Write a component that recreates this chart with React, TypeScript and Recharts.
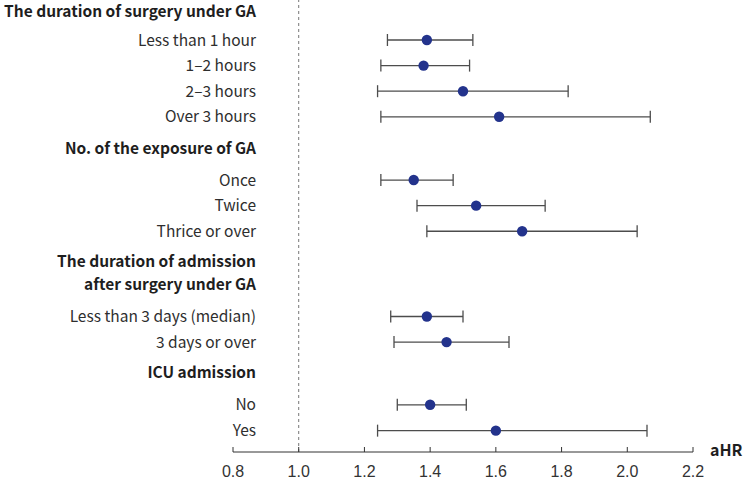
import React from "react";
import {
  ScatterChart,
  Scatter,
  XAxis,
  YAxis,
  ErrorBar,
  ReferenceLine,
  Label,
} from "recharts";

// Row labels (headers and items) with their row positions (in row units, top to bottom)
const rowLabels: string[][] = [
  ["The duration of surgery under GA"],
  ["Less than 1 hour"],
  ["1–2 hours"],
  ["2–3 hours"],
  ["Over 3 hours"],
  ["No. of the exposure of GA"],
  ["Once"],
  ["Twice"],
  ["Thrice or over"],
  ["The duration of admission", "after surgery under GA"],
  ["Less than 3 days (median)"],
  ["3 days or over"],
  ["ICU admission"],
  ["No"],
  ["Yes"],
];
const rowIsHeader: boolean[] = [
  true, false, false, false, false,
  true, false, false, false,
  true, false, false,
  true, false, false,
];
const rowPos: number[] = [
  -0.1, 1, 2, 3, 4,
  5.22, 6.47, 7.47, 8.47,
  10.12, 11.8, 12.8,
  14.0, 15.25, 16.26,
];

// Item estimates (aHR) and 95% CI, in row order (items only)
const itemPos: number[] = [1, 2, 3, 4, 6.47, 7.47, 8.47, 11.8, 12.8, 15.25, 16.26];
const aHR: number[] = [1.39, 1.38, 1.5, 1.61, 1.35, 1.54, 1.68, 1.39, 1.45, 1.4, 1.6];
const ciLow: number[] = [1.27, 1.25, 1.24, 1.25, 1.25, 1.36, 1.39, 1.28, 1.29, 1.3, 1.24];
const ciHigh: number[] = [1.53, 1.52, 1.82, 2.07, 1.47, 1.75, 2.03, 1.5, 1.64, 1.51, 2.06];

const xTicks: number[] = [0.8, 1.0, 1.2, 1.4, 1.6, 1.8, 2.0, 2.2];

const data = itemPos.map((p, i) => ({
  pos: p,
  hr: aHR[i],
  err: [aHR[i] - ciLow[i], ciHigh[i] - aHR[i]],
}));

const labelFont = "'Noto Sans CJK KR', 'Noto Sans', sans-serif";

const RowTick = (props: any) => {
  const { x, y, index } = props;
  const lines = rowLabels[index] || [];
  const header = rowIsHeader[index];
  const lh = 23;
  const start = -((lines.length - 1) * lh) / 2;
  return (
    <g>
      {lines.map((t, k) => (
        <text
          key={k}
          x={x + 23}
          y={y + start + k * lh}
          dy="0.355em"
          textAnchor="end"
          fontFamily={labelFont}
          fontSize={15.5}
          fontWeight={header ? 700 : 400}
          fill={header ? "#1e1e1e" : "#2e2e2e"}
        >
          {t}
        </text>
      ))}
    </g>
  );
};

const Dot = (p: any) => <circle cx={p.cx} cy={p.cy} r={5.2} fill="#23338c" />;

const AhrLabel = (props: any) => {
  const vb = props.viewBox || {};
  return (
    <text
      x={vb.x + vb.width + 17}
      y={vb.y + 4}
      fontFamily={labelFont}
      fontSize={16}
      fontWeight={700}
      fill="#1e1e1e"
    >
      aHR
    </text>
  );
};

export default function App() {
  return (
    <div style={{ position: "absolute", left: 0, top: 0 }}>
      <ScatterChart
        width={743}
        height={480}
        margin={{ top: 0, right: 50, bottom: 0, left: 0 }}
      >
        <XAxis
          type="number"
          dataKey="hr"
          domain={[0.8, 2.2]}
          ticks={xTicks}
          interval={0}
          allowDataOverflow
          height={28}
          tickSize={-5}
          tickMargin={19}
          tickFormatter={(v: number) => v.toFixed(1)}
          stroke="#333"
          tick={{ fill: "#333", fontSize: 16, fontFamily: "'Liberation Sans', Arial, sans-serif" }}
        >
          <Label content={<AhrLabel />} />
        </XAxis>
        <YAxis
          type="number"
          dataKey="pos"
          reversed
          domain={[-0.5625, 17.094]}
          ticks={rowPos}
          interval={0}
          allowDataOverflow
          width={233}
          tickSize={0}
          tickMargin={0}
          axisLine={false}
          tickLine={false}
          tick={<RowTick />}
        />
        <ReferenceLine x={1} stroke="#777" strokeDasharray="3 3" strokeWidth={1} />
        <Scatter data={data} shape={<Dot />} isAnimationActive={false}>
          <ErrorBar
            dataKey="err"
            direction="x"
            width={6}
            stroke="#4d4d4d"
            strokeWidth={1.3}
            isAnimationActive={false}
          />
        </Scatter>
      </ScatterChart>
    </div>
  );
}
